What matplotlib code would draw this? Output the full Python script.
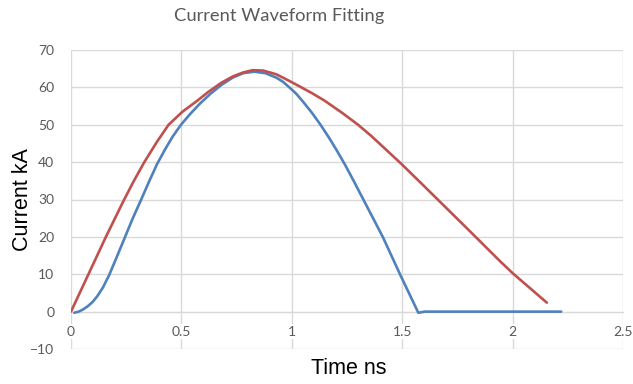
import matplotlib
matplotlib.use("Agg")
import matplotlib.pyplot as plt

# blue: measured waveform (ns, kA)
blue_t = [0.015, 0.035, 0.055, 0.075, 0.098, 0.12, 0.145, 0.173, 0.21, 0.245,
          0.28, 0.318, 0.355, 0.39, 0.425, 0.46, 0.498, 0.54, 0.583, 0.63,
          0.68, 0.732, 0.78, 0.83, 0.88, 0.93, 0.96, 0.989, 1.02, 1.049,
          1.09, 1.13, 1.17, 1.205, 1.241, 1.28, 1.324, 1.412, 1.49, 1.573,
          1.603, 2.22]
blue_i = [-0.3, 0.0, 0.6, 1.4, 2.6, 4.2, 6.5, 9.8, 15.0, 20.0,
          25.0, 30.0, 35.0, 39.5, 43.3, 46.8, 50.0, 52.9, 55.6, 58.2,
          60.6, 62.6, 63.8, 64.2, 63.8, 62.6, 61.5, 60.0, 58.3, 56.3,
          53.3, 50.0, 46.4, 43.0, 39.3, 35.0, 30.0, 20.0, 10.0, -0.3,
          0.0, 0.0]

# red: fitted waveform (ns, kA)
red_t = [0.0, 0.079, 0.158, 0.241, 0.285, 0.332, 0.39, 0.442, 0.505, 0.569,
         0.62, 0.68, 0.732, 0.78, 0.823, 0.87, 0.93, 0.98, 1.034, 1.09,
         1.147, 1.23, 1.30, 1.36, 1.422, 1.495, 1.58, 1.671, 1.8, 1.943,
         2.0, 2.155]
red_i = [0.0, 10.0, 20.0, 30.0, 35.0, 40.0, 45.5, 50.0, 53.5, 56.3,
         58.7, 61.2, 62.9, 64.0, 64.6, 64.5, 63.5, 62.0, 60.3, 58.5,
         56.5, 53.1, 50.0, 47.0, 43.6, 39.6, 34.7, 29.4, 21.9, 13.5,
         10.3, 2.4]

x_ticks = [0, 0.5, 1, 1.5, 2, 2.5]
x_labels = ["0", "0.5", "1", "1.5", "2", "2.5"]
y_ticks = [-10, 0, 10, 20, 30, 40, 50, 60, 70]

grid_c = "#d9d9d9"
text_c = "#595959"

fig = plt.figure(figsize=(6.33, 3.84), dpi=100)
ax = fig.add_axes([71 / 633, 35 / 384, 552 / 633, 299 / 384])

ax.plot(blue_t, blue_i, color="#4f81bd", lw=1.9, solid_capstyle="round",
        solid_joinstyle="round", zorder=3)
ax.plot(red_t, red_i, color="#c0504d", lw=1.9, solid_capstyle="round",
        solid_joinstyle="round", zorder=4)

ax.set_xlim(0, 2.5)
ax.set_ylim(-10, 70)
ax.set_xticks(x_ticks, x_labels)
ax.set_yticks(y_ticks)
ax.grid(True, color=grid_c, lw=1)
ax.set_axisbelow(True)

for s in ["top", "right", "left"]:
    ax.spines[s].set_visible(False)
ax.spines["bottom"].set_position(("data", 0))
ax.spines["bottom"].set_color(grid_c)
ax.spines["bottom"].set_zorder(1)

ax.tick_params(axis="both", length=0, colors=text_c, labelsize=10)
ax.tick_params(axis="x", pad=10)
ax.tick_params(axis="y", pad=12)
for lab in ax.get_xticklabels() + ax.get_yticklabels():
    lab.set_family("Lato")
for lab in ax.get_xticklabels():
    lab.set_bbox(dict(fc="white", ec="none", pad=1))

fig.text(279 / 633, 1 - 16 / 384, "Current Waveform Fitting", ha="center", va="center",
         fontsize=13.2, color=text_c, family="Lato")
fig.text(349 / 633, 1 - 369 / 384, "Time ns", ha="center", va="center",
         fontsize=15.5, color="black", family="Liberation Sans")
fig.text(23 / 633, 1 - 200 / 384, "Current kA", ha="center", va="center", rotation=90,
         fontsize=15.5, color="black", family="Liberation Sans")

fig.savefig("out.png", dpi=100)
